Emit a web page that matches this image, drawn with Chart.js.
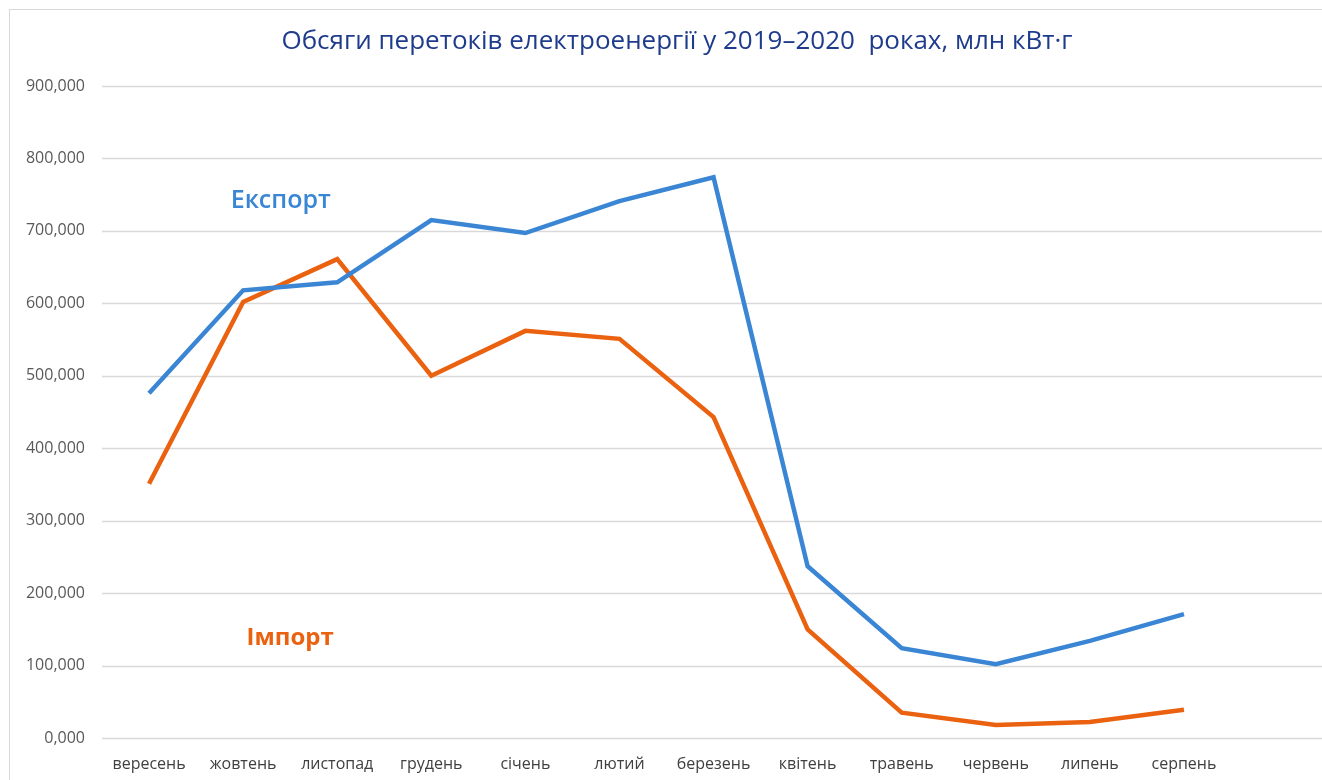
<!DOCTYPE html>
<html>
<head>
<meta charset="utf-8">
<script src="https://cdn.jsdelivr.net/npm/chart.js@4/dist/chart.umd.min.js"></script>
<style>
  body { margin: 0; background: #fff; overflow: hidden; }
  #wrap { position: relative; width: 1322px; height: 780px; }
  #frame { position: absolute; left: 9px; top: 9px; width: 1330px; height: 800px;
           border: 1px solid #d9d9d9; pointer-events: none; }
</style>
</head>
<body>
<div id="wrap">
  <canvas id="flowChart" width="1322" height="780"></canvas>
  <div id="frame"></div>
</div>
<script>
// місяці вересень 2019 – серпень 2020
const months = ['вересень', 'жовтень', 'листопад', 'грудень', 'січень', 'лютий',
                'березень', 'квітень', 'травень', 'червень', 'липень', 'серпень'];

// млн кВт·г
const exportValues = [476, 618, 629, 715, 697, 741, 774, 237, 124, 102, 134, 171];
const importValues = [351, 602, 661, 500, 562, 551, 443, 150, 35, 18, 22, 39];

const yTicks = [0, 100, 200, 300, 400, 500, 600, 700, 800, 900];

const titleText = 'Обсяги перетоків електроенергії у 2019–2020  роках, млн кВт·г';
const blue = '#3a86d4';
const orange = '#ea6210';

// горизонтальна сітка до правого краю полотна
const fullGrid = {
    id: 'fullGrid',
    beforeDatasetsDraw(chart) {
        const c = chart.ctx, y = chart.scales.y;
        c.save();
        c.strokeStyle = '#d9d9d9';
        c.lineWidth = 1.5;
        yTicks.forEach(v => {
            const py = Math.round(y.getPixelForValue(v)) + 0.5;
            c.beginPath();
            c.moveTo(chart.chartArea.left, py);
            c.lineTo(chart.width, py);
            c.stroke();
        });
        c.restore();
    }
};

// заголовок і підписи серій
const textLayer = {
    id: 'textLayer',
    afterDatasetsDraw(chart) {
        const c = chart.ctx, x = chart.scales.x, y = chart.scales.y;
        c.save();
        c.textAlign = 'center';
        c.textBaseline = 'middle';

        c.font = '26px "Open Sans"';
        c.fillStyle = '#1f3c8c';
        c.fillText(titleText, chart.width / 2 + 16, 42);

        c.font = '600 25px "Open Sans"';
        c.fillStyle = blue;
        c.fillText('Експорт', x.getPixelForValue(1.4), y.getPixelForValue(741));
        c.font = '700 24px "Open Sans"';
        c.fillStyle = orange;
        c.fillText('Імпорт', x.getPixelForValue(1.5), y.getPixelForValue(138));
        c.restore();
    }
};

new Chart(document.getElementById('flowChart'), {
    type: 'line',
    data: {
        labels: months,
        datasets: [{
            label: 'Експорт',
            data: exportValues,
            borderColor: blue,
            borderWidth: 4.5,
            pointRadius: 0,
            tension: 0
        }, {
            label: 'Імпорт',
            data: importValues,
            borderColor: orange,
            borderWidth: 4.5,
            pointRadius: 0,
            tension: 0
        }]
    },
    options: {
        responsive: false,
        animation: false,
        layout: { padding: { top: 86, right: 91, bottom: 0, left: 20 } },
        plugins: {
            legend: { display: false },
            tooltip: { enabled: false },
            title: { display: false }
        },
        scales: {
            x: {
                offset: true,
                afterFit(scale) { scale.height = 42; },
                grid: { display: false, drawTicks: false },
                border: { display: false },
                ticks: {
                    color: '#404040',
                    font: { family: '"Open Sans"', size: 16 },
                    padding: 17,
                    maxRotation: 0
                }
            },
            y: {
                min: 0,
                max: 900,
                afterFit(scale) { scale.width = 82; },
                afterBuildTicks(scale) { scale.ticks = yTicks.map(v => ({ value: v })); },
                grid: { display: false, drawTicks: false },
                border: { display: false },
                ticks: {
                    color: '#595959',
                    font: { family: '"Open Sans"', size: 16 },
                    padding: 17,
                    callback: v => v.toFixed(3).replace('.', ',')
                }
            }
        }
    },
    plugins: [fullGrid, textLayer]
});
</script>
</body>
</html>
